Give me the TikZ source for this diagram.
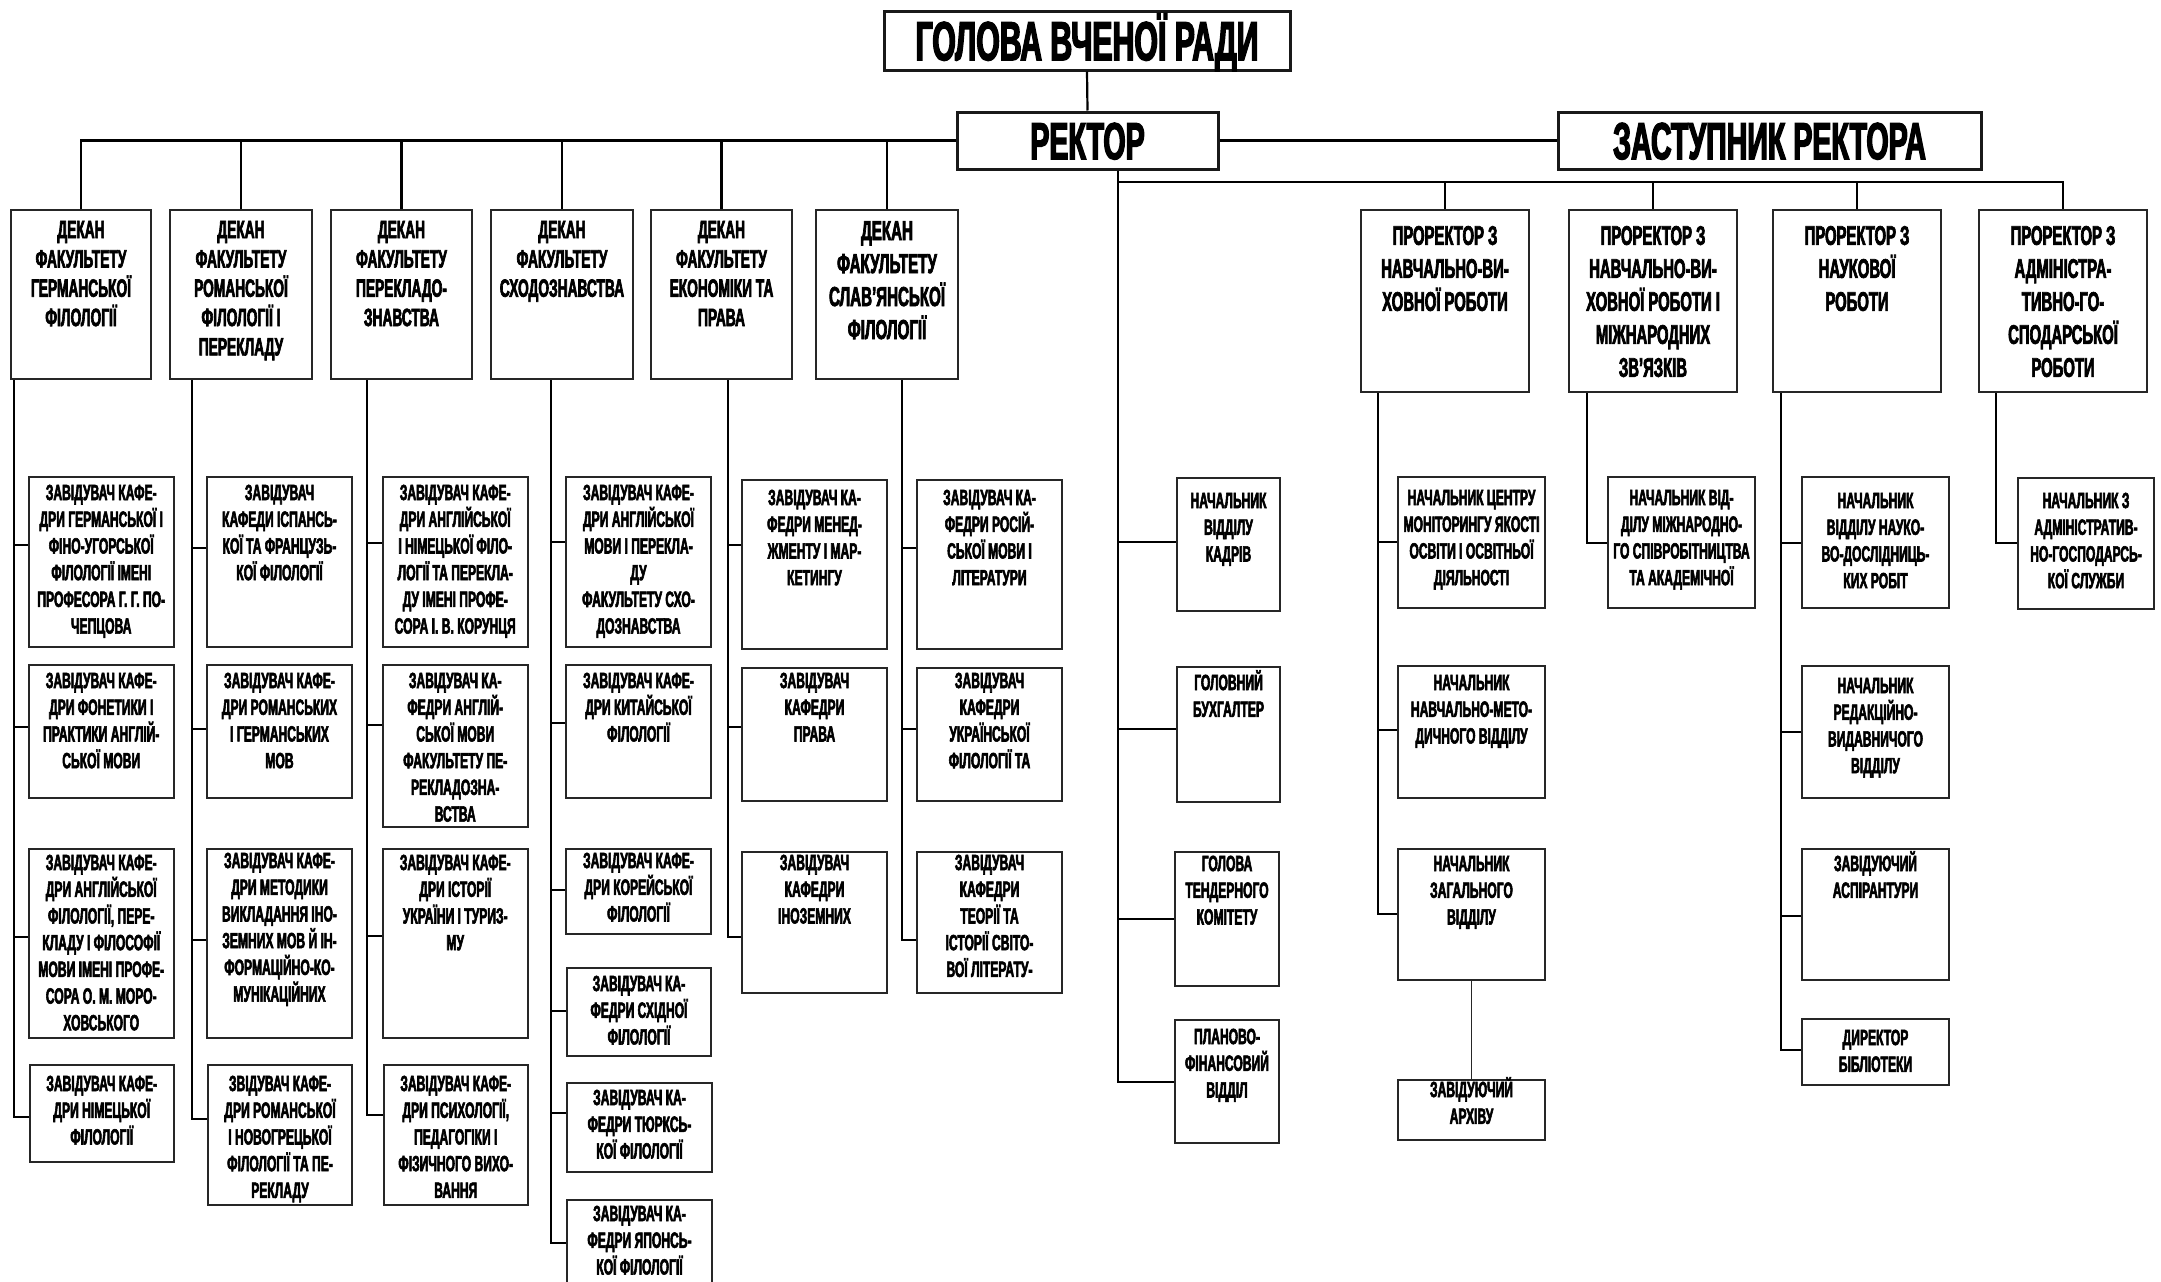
\documentclass[tikz,border=0pt]{standalone}
\usepackage{fontspec}
\setmainfont{Liberation Sans}[FakeStretch=0.55,FakeBold=2.5]
\newcommand\ob[9]{%
  \node[bx,minimum width=#4,minimum height=#5] (#1) at (#2,#3) {};
  \node[tx,font=\bfseries\fontsize{#7}{#8}\selectfont] (#1t) at ([yshift={0.642*#7-#6}]#1.north) {\rule{0pt}{1em}#9};}
\newcommand\lb[7]{\ob{#1}{#2}{#3}{#4}{#5}{#6}{22}{26.7}{#7}}
\newcommand\tk[3]{\draw[ln] (#1) |- (#2.west |- 0,#3);}
\begin{document}
\begin{tikzpicture}[x=1pt,y=-1pt,
  bx/.style={draw=black!85,line width=2pt,anchor=north west,inner sep=0pt,fill=white},
  tx/.style={anchor=north,align=center,inner sep=0pt},
  topbox/.style={draw=black!90,line width=3pt,inner sep=0pt,fill=white,text depth=0pt},
  ln/.style={line width=2.2pt,black}]
\useasboundingbox (0,0) rectangle (2161,1282);
\fill[white] (0,0) rectangle (2161,1282);

% top level
\node[topbox,minimum width=406,minimum height=59,text height=39.4pt,font=\bfseries\fontsize{55}{60}\selectfont] (gol) at (1087,40.5) {ГОЛОВА ВЧЕНОЇ РАДИ};
\node[topbox,minimum width=261,minimum height=57,text height=37.2pt,font=\bfseries\fontsize{52}{58}\selectfont] (rek) at (1087.5,140.5) {РЕКТОР};
\node[topbox,minimum width=423,minimum height=57,text height=37.2pt,font=\bfseries\fontsize{52}{58}\selectfont] (zast) at (1769.5,140.5) {ЗАСТУПНИК РЕКТОРА};
\draw[ln] (gol.south) -- (rek.north);
\draw[ln] (rek.east) -- (zast.west);

% deans
\ob{d1}{10}{209}{140}{169}{20}{25}{29.3}{ДЕКАН\\ФАКУЛЬТЕТУ\\ГЕРМАНСЬКОЇ\\ФІЛОЛОГІЇ}
\ob{d2}{169}{209}{142}{169}{20}{25}{29.3}{ДЕКАН\\ФАКУЛЬТЕТУ\\РОМАНСЬКОЇ\\ФІЛОЛОГІЇ І\\ПЕРЕКЛАДУ}
\ob{d3}{330}{209}{141}{169}{20}{25}{29.3}{ДЕКАН\\ФАКУЛЬТЕТУ\\ПЕРЕКЛАДО-\\ЗНАВСТВА}
\ob{d4}{490}{209}{142}{169}{20}{25}{29.3}{ДЕКАН\\ФАКУЛЬТЕТУ\\СХОДОЗНАВСТВА}
\ob{d5}{650}{209}{141}{169}{20}{25}{29.3}{ДЕКАН\\ФАКУЛЬТЕТУ\\ЕКОНОМІКИ ТА\\ПРАВА}
\ob{d6}{815}{209}{142}{169}{21}{27.5}{33}{ДЕКАН\\ФАКУЛЬТЕТУ\\СЛАВ’ЯНСЬКОЇ\\ФІЛОЛОГІЇ}
\draw[ln] (rek.west) -| (d1.north);
\foreach \d in {d2,d3,d4,d5,d6} {\draw[ln] (\d.north) -- (\d.north |- rek.west);}

% prorectors
\ob{p1}{1360}{209}{168}{182}{26}{27}{33}{ПРОРЕКТОР З\\НАВЧАЛЬНО-ВИ-\\ХОВНОЇ РОБОТИ}
\ob{p2}{1568}{209}{168}{182}{26}{27}{33}{ПРОРЕКТОР З\\НАВЧАЛЬНО-ВИ-\\ХОВНОЇ РОБОТИ І\\МІЖНАРОДНИХ\\ЗВ’ЯЗКІВ}
\ob{p3}{1772}{209}{168}{182}{26}{27}{33}{ПРОРЕКТОР З\\НАУКОВОЇ\\РОБОТИ}
\ob{p4}{1978}{209}{168}{182}{26}{27}{33}{ПРОРЕКТОР З\\АДМІНІСТРА-\\ТИВНО-ГО-\\СПОДАРСЬКОЇ\\РОБОТИ}
\coordinate (rv) at ([xshift=30.5]rek.south);
\coordinate (pbus) at (1118,182);
\draw[ln] (rek.south -| rv) -- (pbus) -| (p4.north);
\foreach \p in {p1,p2,p3} {\draw[ln] (\p.north) -- (\p.north |- pbus);}

% column 1
\lb{b1a}{27.5}{476}{145.5}{170}{16}{ЗАВІДУВАЧ КАФЕ-\\ДРИ ГЕРМАНСЬКОЇ І\\ФІНО-УГОРСЬКОЇ\\ФІЛОЛОГІЇ ІМЕНІ\\ПРОФЕСОРА Г. Г. ПО-\\ЧЕПЦОВА}
\lb{b1b}{27.5}{664}{145.5}{133}{16}{ЗАВІДУВАЧ КАФЕ-\\ДРИ ФОНЕТИКИ І\\ПРАКТИКИ АНГЛІЙ-\\СЬКОЇ МОВИ}
\lb{b1c}{27.5}{848}{145.5}{189}{14}{ЗАВІДУВАЧ КАФЕ-\\ДРИ АНГЛІЙСЬКОЇ\\ФІЛОЛОГІЇ, ПЕРЕ-\\КЛАДУ І ФІЛОСОФІЇ\\МОВИ ІМЕНІ ПРОФЕ-\\СОРА О. М. МОРО-\\ХОВСЬКОГО}
\lb{b1d}{28.5}{1064}{144.5}{97}{19}{ЗАВІДУВАЧ КАФЕ-\\ДРИ НІМЕЦЬКОЇ\\ФІЛОЛОГІЇ}
\coordinate (c1) at ([xshift=4]d1.south west);
\tk{c1}{b1a}{545}\tk{c1}{b1b}{727}\tk{c1}{b1c}{937}\tk{c1}{b1d}{1117}

% column 2
\lb{b2a}{206}{476}{145}{170}{16}{ЗАВІДУВАЧ\\КАФЕДИ ІСПАНСЬ-\\КОЇ ТА ФРАНЦУЗЬ-\\КОЇ ФІЛОЛОГІЇ}
\lb{b2b}{206}{664}{145}{133}{16}{ЗАВІДУВАЧ КАФЕ-\\ДРИ РОМАНСЬКИХ\\І ГЕРМАНСЬКИХ\\МОВ}
\lb{b2c}{206}{848}{145}{189}{12}{ЗАВІДУВАЧ КАФЕ-\\ДРИ МЕТОДИКИ\\ВИКЛАДАННЯ ІНО-\\ЗЕМНИХ МОВ Й ІН-\\ФОРМАЦІЙНО-КО-\\МУНІКАЦІЙНИХ}
\lb{b2d}{207}{1064}{144}{140}{19}{ЗВІДУВАЧ КАФЕ-\\ДРИ РОМАНСЬКОЇ\\І НОВОГРЕЦЬКОЇ\\ФІЛОЛОГІЇ ТА ПЕ-\\РЕКЛАДУ}
\coordinate (c2) at ([xshift=23]d2.south west);
\tk{c2}{b2a}{548}\tk{c2}{b2b}{729}\tk{c2}{b2c}{940}\tk{c2}{b2d}{1119}

% column 3
\lb{b3a}{381.5}{476}{145.5}{170}{16}{ЗАВІДУВАЧ КАФЕ-\\ДРИ АНГЛІЙСЬКОЇ\\І НІМЕЦЬКОЇ ФІЛО-\\ЛОГІЇ ТА ПЕРЕКЛА-\\ДУ ІМЕНІ ПРОФЕ-\\СОРА І. В. КОРУНЦЯ}
\lb{b3b}{381.5}{664}{145.5}{162}{16}{ЗАВІДУВАЧ КА-\\ФЕДРИ АНГЛІЙ-\\СЬКОЇ МОВИ\\ФАКУЛЬТЕТУ ПЕ-\\РЕКЛАДОЗНА-\\ВСТВА}
\lb{b3c}{381.5}{848}{145.5}{189}{14}{ЗАВІДУВАЧ КАФЕ-\\ДРИ ІСТОРІЇ\\УКРАЇНИ І ТУРИЗ-\\МУ}
\lb{b3d}{382.5}{1064}{144.5}{140}{19}{ЗАВІДУВАЧ КАФЕ-\\ДРИ ПСИХОЛОГІЇ,\\ПЕДАГОГІКИ І\\ФІЗИЧНОГО ВИХО-\\ВАННЯ}
\coordinate (c3) at ([xshift=37]d3.south west);
\tk{c3}{b3a}{543}\tk{c3}{b3b}{725}\tk{c3}{b3c}{936}\tk{c3}{b3d}{1115}

% column 4
\lb{b4a}{565}{476}{145}{170}{16}{ЗАВІДУВАЧ КАФЕ-\\ДРИ АНГЛІЙСЬКОЇ\\МОВИ І ПЕРЕКЛА-\\ДУ\\ФАКУЛЬТЕТУ СХО-\\ДОЗНАВСТВА}
\lb{b4b}{565}{664}{145}{133}{16}{ЗАВІДУВАЧ КАФЕ-\\ДРИ КИТАЙСЬКОЇ\\ФІЛОЛОГІЇ}
\lb{b4c}{565}{848}{145}{85}{12}{ЗАВІДУВАЧ КАФЕ-\\ДРИ КОРЕЙСЬКОЇ\\ФІЛОЛОГІЇ}
\lb{b4d}{566}{967}{144}{88}{16}{ЗАВІДУВАЧ КА-\\ФЕДРИ СХІДНОЇ\\ФІЛОЛОГІЇ}
\lb{b4e}{566}{1082}{145}{89}{15}{ЗАВІДУВАЧ КА-\\ФЕДРИ ТЮРКСЬ-\\КОЇ ФІЛОЛОГІЇ}
\lb{b4f}{566}{1199}{145}{100}{14}{ЗАВІДУВАЧ КА-\\ФЕДРИ ЯПОНСЬ-\\КОЇ ФІЛОЛОГІЇ}
\coordinate (c4) at ([xshift=61]d4.south west);
\tk{c4}{b4a}{542}\tk{c4}{b4b}{723}\tk{c4}{b4c}{890}\tk{c4}{b4d}{1011}\tk{c4}{b4e}{1113}\tk{c4}{b4f}{1243}

% column 5
\lb{b5a}{741}{479}{145}{169}{18}{ЗАВІДУВАЧ КА-\\ФЕДРИ МЕНЕД-\\ЖМЕНТУ І МАР-\\КЕТИНГУ}
\lb{b5b}{741}{667}{145}{133}{13}{ЗАВІДУВАЧ\\КАФЕДРИ\\ПРАВА}
\lb{b5c}{741}{851}{145}{141}{11}{ЗАВІДУВАЧ\\КАФЕДРИ\\ІНОЗЕМНИХ}
\coordinate (c5) at ([xshift=78]d5.south west);
\tk{c5}{b5a}{545}\tk{c5}{b5b}{727}\tk{c5}{b5c}{937}

% column 6
\lb{b6a}{916}{479}{145}{169}{18}{ЗАВІДУВАЧ КА-\\ФЕДРИ РОСІЙ-\\СЬКОЇ МОВИ І\\ЛІТЕРАТУРИ}
\lb{b6b}{916}{667}{145}{133}{13}{ЗАВІДУВАЧ\\КАФЕДРИ\\УКРАЇНСЬКОЇ\\ФІЛОЛОГІЇ ТА}
\lb{b6c}{916}{851}{145}{141}{11}{ЗАВІДУВАЧ\\КАФЕДРИ\\ТЕОРІЇ ТА\\ІСТОРІЇ СВІТО-\\ВОЇ ЛІТЕРАТУ-}
\coordinate (c6) at ([xshift=87]d6.south west);
\tk{c6}{b6a}{548}\tk{c6}{b6b}{729}\tk{c6}{b6c}{940}

% rector staff
\lb{s1}{1176}{477}{103}{133}{23}{НАЧАЛЬНИК\\ВІДДІЛУ\\КАДРІВ}
\lb{s2}{1176}{666}{103}{135}{16}{ГОЛОВНИЙ\\БУХГАЛТЕР}
\lb{s3}{1174}{851}{104}{134}{12}{ГОЛОВА\\ТЕНДЕРНОГО\\КОМІТЕТУ}
\lb{s4}{1174}{1019}{104}{123}{17}{ПЛАНОВО-\\ФІНАНСОВИЙ\\ВІДДІЛ}
\tk{rv}{s1}{542}\tk{rv}{s2}{729}\tk{rv}{s3}{919}\tk{rv}{s4}{1082}

% prorector 1
\lb{r1a}{1397}{476}{147}{131}{21}{НАЧАЛЬНИК ЦЕНТРУ\\МОНІТОРИНГУ ЯКОСТІ\\ОСВІТИ І ОСВІТНЬОЇ\\ДІЯЛЬНОСТІ}
\lb{r1b}{1397}{665}{147}{132}{17}{НАЧАЛЬНИК\\НАВЧАЛЬНО-МЕТО-\\ДИЧНОГО ВІДДІЛУ}
\lb{r1c}{1397}{848}{147}{131}{15}{НАЧАЛЬНИК\\ЗАГАЛЬНОГО\\ВІДДІЛУ}
\lb{r1d}{1397}{1079}{147}{60}{10}{ЗАВІДУЮЧИЙ\\АРХІВУ}
\coordinate (q1) at ([xshift=18]p1.south west);
\tk{q1}{r1a}{542}\tk{q1}{r1b}{730}\tk{q1}{r1c}{914}
\draw[line width=1.6pt,black!85] (r1c.south) -- (r1d.north);

% prorector 2
\lb{r2a}{1607}{476}{147}{131}{21}{НАЧАЛЬНИК ВІД-\\ДІЛУ МІЖНАРОДНО-\\ГО СПІВРОБІТНИЦТВА\\ТА АКАДЕМІЧНОЇ}
\coordinate (q2) at ([xshift=19]p2.south west);
\tk{q2}{r2a}{543}

% prorector 3
\lb{r3a}{1801}{476}{147}{131}{24}{НАЧАЛЬНИК\\ВІДДІЛУ НАУКО-\\ВО-ДОСЛІДНИЦЬ-\\КИХ РОБІТ}
\lb{r3b}{1801}{665}{147}{132}{20}{НАЧАЛЬНИК\\РЕДАКЦІЙНО-\\ВИДАВНИЧОГО\\ВІДДІЛУ}
\lb{r3c}{1801}{848}{147}{131}{15}{ЗАВІДУЮЧИЙ\\АСПІРАНТУРИ}
\lb{r3d}{1801}{1018}{147}{66}{19}{ДИРЕКТОР\\БІБЛІОТЕКИ}
\coordinate (q3) at ([xshift=9]p3.south west);
\tk{q3}{r3a}{543}\tk{q3}{r3b}{732}\tk{q3}{r3c}{916}\tk{q3}{r3d}{1050}

% prorector 4
\lb{r4a}{2017}{477}{136}{131}{23}{НАЧАЛЬНИК З\\АДМІНІСТРАТИВ-\\НО-ГОСПОДАРСЬ-\\КОЇ СЛУЖБИ}
\coordinate (q4) at ([xshift=18]p4.south west);
\tk{q4}{r4a}{543}
\end{tikzpicture}
\end{document}
